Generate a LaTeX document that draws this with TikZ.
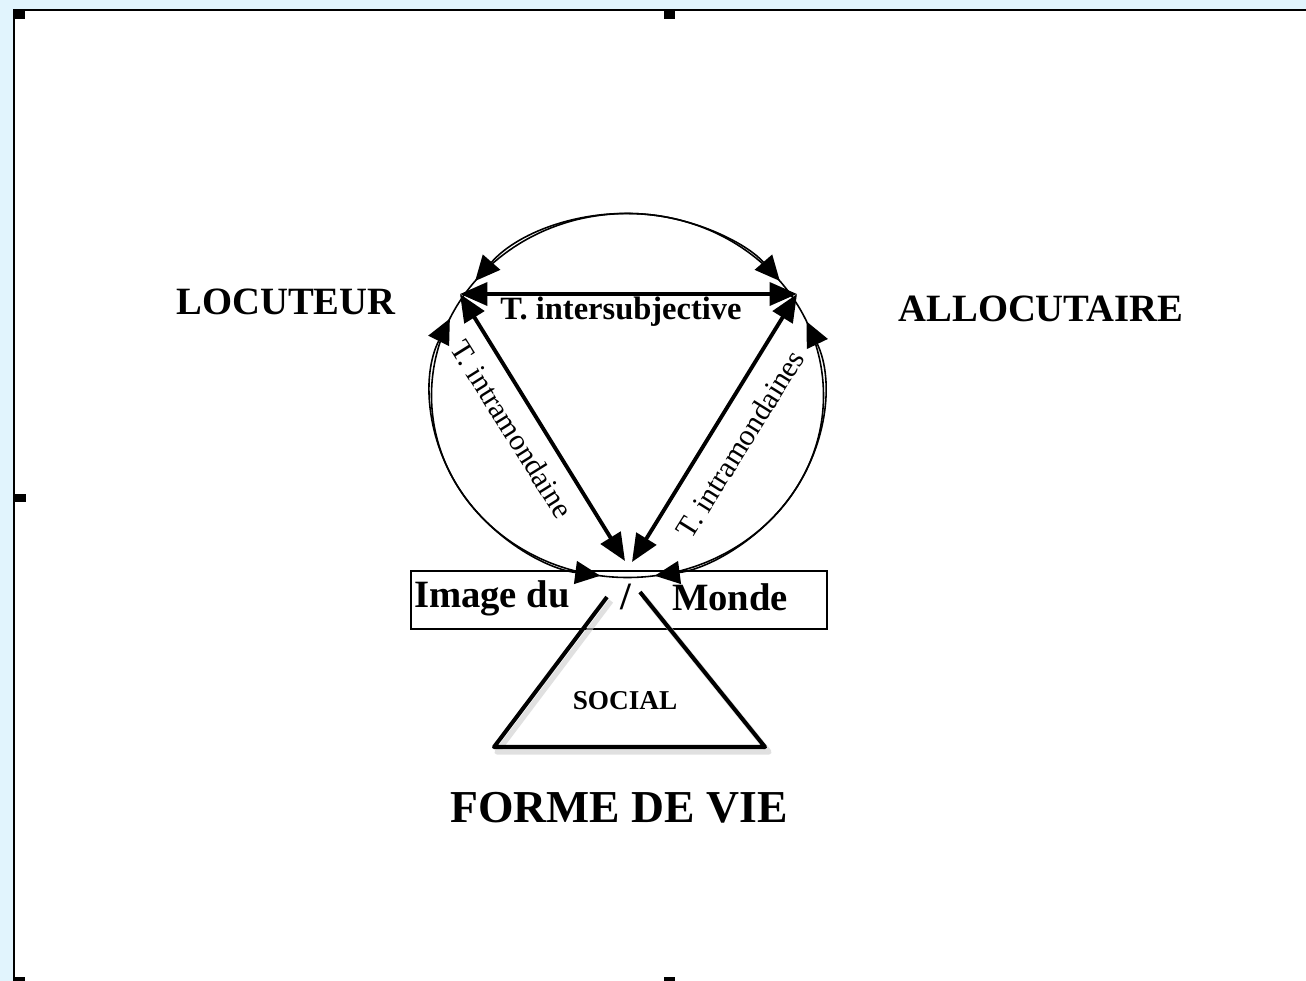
\documentclass[tikz,border=0pt]{standalone}
\usepackage{fontspec}
\setmainfont{Liberation Serif}
\usetikzlibrary{arrows.meta,positioning}
\definecolor{pagebg}{RGB}{225,244,253}

\begin{document}
\begin{tikzpicture}[
    x=0.02cm, y=-0.02cm,
    pole/.style={font=\fontsize{22}{26}\selectfont\bfseries},
    etiquette/.style={font=\fontsize{17}{20}\selectfont, inner sep=1pt},
    fleche/.style={line width=2.2pt, <->, >={Triangle[length=5.5mm,width=4.6mm]}},
    arcfleche/.style={line width=0.9pt, <->, >={Triangle[length=5mm,width=4.6mm]}},
    poignee/.style={fill=black}
]
    % page
    \useasboundingbox (0,0) rectangle (1306,981);
    \fill[pagebg] (0,0) rectangle (1306,981);
    \fill[white] (14,10) rectangle (1306,981);
    \draw[line width=0.9pt] (14,981) -- (14,10) -- (1306,10);
    \fill[poignee] (14,10) rectangle (25,19);
    \fill[poignee] (664,10) rectangle (675,19);
    \fill[poignee] (14,494) rectangle (26,502);
    \fill[poignee] (14,977) rectangle (25,981);
    \fill[poignee] (664,977) rectangle (675,981);

    % poles
    \node[pole] (locuteur) at (286,302) {LOCUTEUR};
    \node[pole] (allocutaire) at (1041,309) {ALLOCUTAIRE};
    \node[font=\fontsize{26}{30}\selectfont\bfseries] (forme) at (619,808) {FORME DE VIE};

    \coordinate (centre) at (627.5,395.5);
    \coordinate (loc) at (460,294);
    \coordinate (allo) at (797,294);
    \coordinate (basG) at (625,561);
    \coordinate (basD) at (632,562);

    \draw[line width=0.9pt] (centre) ellipse [x radius=196, y radius=182];
    \draw[arcfleche] (centre) ++(-141:196 and 182) arc[start angle=-141, end angle=-39, x radius=196, y radius=182];
    \draw[arcfleche] (centre) ++(-155:196 and 182) arc[start angle=-155, end angle=-262, x radius=196, y radius=182];
    \draw[arcfleche] (centre) ++(-24:196 and 182) arc[start angle=-24, end angle=82, x radius=196, y radius=182];

    \draw[fleche] (loc) -- (allo);
    \draw[fleche] (loc) -- (basG);
    \draw[fleche] (allo) -- (basD);

    \node[font=\fontsize{18.5}{22}\selectfont\bfseries] (inter) at (621,312) {T. intersubjective};
    \node[etiquette, rotate=-58] (intraG) at (512,429) {T. intramondaine};
    \node[etiquette, rotate=58] (intraD) at (740,444) {T. intramondaines};

    % image du monde
    \node[draw, line width=1.1pt, minimum width=8.32cm, minimum height=1.16cm] (image) at (619,600) {};
    \node[pole, anchor=west, inner sep=1pt] (imageG) at (412,598) {Image du};
    \node[pole] (slash) at (626,597) {/};
    \node[pole] (imageD) at (730,597) {Monde};

    % social
    \draw[gray!40, line width=3pt, line join=round, opacity=0.6] (611,601) -- (497,752) -- (769,752) -- (644,597);
    \draw[line width=2.3pt, line join=round] (607,597) -- (494,747) -- (765,747) -- (640,592);
    \node[font=\fontsize{15.5}{18}\selectfont\bfseries] (social) at (625,701) {SOCIAL};
\end{tikzpicture}
\end{document}
